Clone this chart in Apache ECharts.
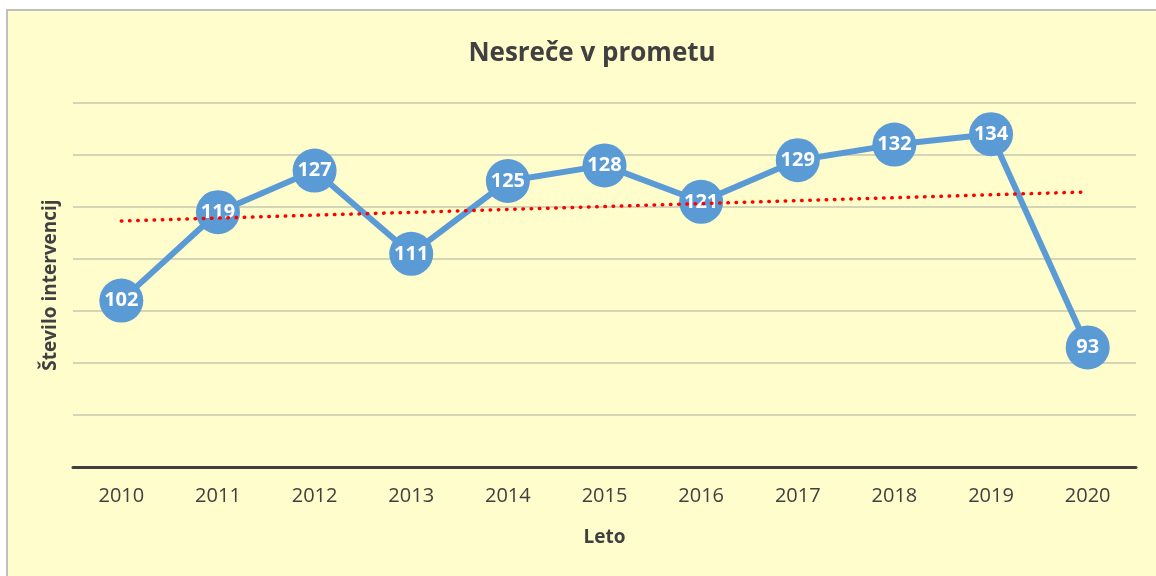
<!DOCTYPE html>
<html>
<head>
<meta charset="utf-8">
<script src="https://cdn.jsdelivr.net/npm/echarts@6/dist/echarts.min.js"></script>
<style>
  html, body { margin: 0; padding: 0; background: #ffffff; }
  #frame {
    position: absolute; left: 6px; top: 9px; width: 1170px; height: 590px;
    background: #FFFDCC; border-left: 2px solid #BFBFBF; border-top: 2px solid #BFBFBF;
  }
  #chart { position: absolute; left: 0; top: 0; width: 1156px; height: 576px; }
</style>
</head>
<body>
<div id="frame"></div>
<div id="chart"></div>
<script>
// podatki
const years = ['2010', '2011', '2012', '2013', '2014', '2015', '2016', '2017', '2018', '2019', '2020'];
const accidents = [102, 119, 127, 111, 125, 128, 121, 129, 132, 134, 93];
// linearni trend, odčitan s slike (začetek in konec)
const trendLine = [117.3, '-', '-', '-', '-', '-', '-', '-', '-', '-', 122.9];

const FONT = '"Open Sans", "Noto Sans", sans-serif';

const chart = echarts.init(document.getElementById('chart'));
const option = {
  backgroundColor: 'transparent',
  animation: false,
  title: {
    text: 'Nesreče v prometu',
    left: 587,
    textAlign: 'center',
    top: 36,
    textStyle: { fontFamily: FONT, fontSize: 26, fontWeight: 'bold', color: '#404040' }
  },
  grid: { left: 73, right: 20, top: 103, bottom: 109 },
  xAxis: {
    type: 'category',
    data: years,
    boundaryGap: true,
    name: 'Leto',
    nameLocation: 'middle',
    nameGap: 61,
    nameTextStyle: { fontFamily: FONT, fontSize: 19, fontWeight: 'bold', color: '#404040' },
    axisLine: { lineStyle: { color: '#404040', width: 3 } },
    axisTick: { show: false },
    axisLabel: { fontFamily: FONT, fontSize: 20, color: '#404040', margin: 19 }
  },
  yAxis: {
    type: 'value',
    min: 70,
    max: 140,
    interval: 10,
    name: 'Število intervencij',
    nameLocation: 'middle',
    nameRotate: 90,
    nameGap: 13,
    nameTextStyle: { fontFamily: FONT, fontSize: 19, fontWeight: 'bold', color: '#404040' },
    axisLine: { show: false },
    axisTick: { show: false },
    axisLabel: { show: false },
    splitLine: { lineStyle: { color: '#C6C6B0', width: 1.5 } }
  },
  series: [
    {
      name: 'Nesreče',
      type: 'line',
      data: accidents,
      symbol: 'circle',
      symbolSize: 44,
      lineStyle: { color: '#5B9BD5', width: 6 },
      itemStyle: { color: '#5B9BD5', borderWidth: 0 },
      label: {
        show: true,
        position: 'inside',
        fontFamily: FONT,
        fontSize: 20,
        fontWeight: 'bold',
        color: '#ffffff'
      }
    },
    {
      name: 'Trend',
      type: 'line',
      data: trendLine,
      connectNulls: true,
      symbol: 'none',
      silent: true,
      z: 5,
      lineStyle: { color: '#FF0000', width: 3.5, type: [0.5, 7.7], cap: 'round' }
    }
  ]
};
chart.setOption(option);
</script>
</body>
</html>
